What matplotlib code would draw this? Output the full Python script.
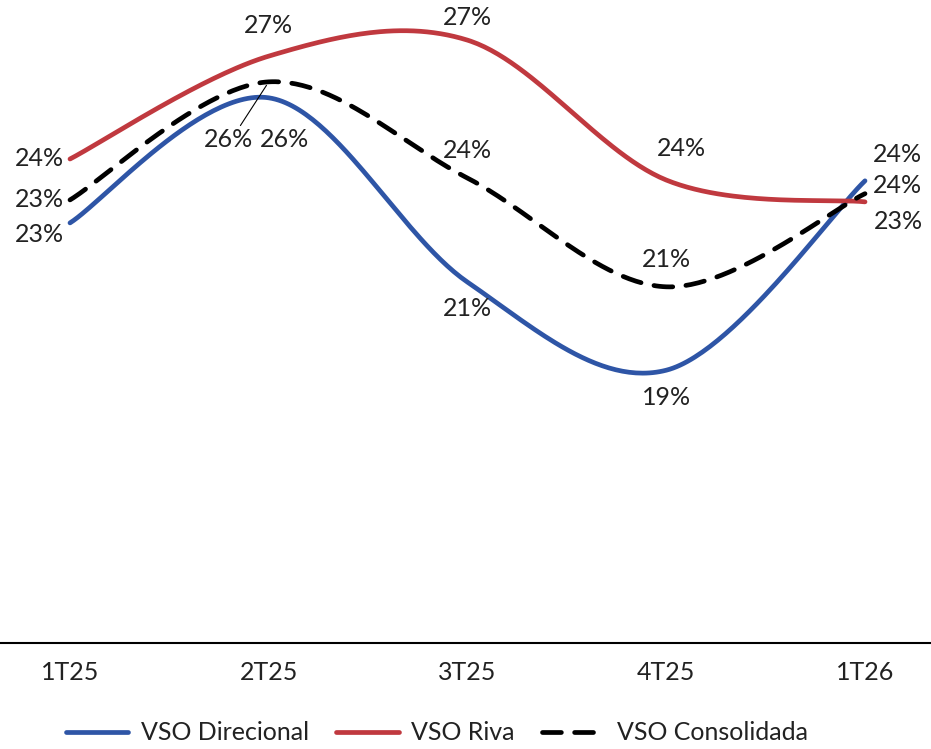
import numpy as np
import matplotlib
matplotlib.use("Agg")
import matplotlib.pyplot as plt

plt.rcParams['font.family'] = ['Lato', 'DejaVu Sans']

quarters = ["1T25", "2T25", "3T25", "4T25", "1T26"]
vso_direcional = [0.2278, 0.2599, 0.2126, 0.1900, 0.2386]
vso_riva = [0.2442, 0.2706, 0.2747, 0.2388, 0.2332]
vso_consolidada = [0.2337, 0.2640, 0.2393, 0.2114, 0.2353]

BLUE = "#2E55A6"
RED = "#C0393F"
TXT = "#222222"
FS = 18

# label offsets in pixels (dx, dy), dy positive = up
offsets = {
    "dir": [(-31, -12), (16, -42), (0, -26), (0, -27), (32, 26)],
    "riva": [(-31, 0), (0, 31), (0, 23), (15, 32), (33, -20)],
    "cons": [(-31, 0), (-40, -58), (0, 28), (0, 27), (32, 8)],
}


def smooth(x, y, n=60):
    """catmull-rom style smoothing, like excel's smoothed line"""
    x = np.asarray(x, float)
    y = np.asarray(y, float)
    px = np.concatenate([[x[0]], x, [x[-1]]])
    py = np.concatenate([[y[0]], y, [y[-1]]])
    xs, ys = [], []
    for i in range(1, len(px) - 2):
        p0, p1, p2, p3 = [np.array([px[j], py[j]]) for j in range(i - 1, i + 3)]
        c1 = p1 + (p2 - p0) / 6
        c2 = p2 - (p3 - p1) / 6
        t = np.linspace(0, 1, n)[:, None]
        b = ((1 - t) ** 3 * p1 + 3 * (1 - t) ** 2 * t * c1
             + 3 * (1 - t) * t ** 2 * c2 + t ** 3 * p2)
        xs.append(b[:, 0]); ys.append(b[:, 1])
    return np.concatenate(xs), np.concatenate(ys)


fig = plt.figure(figsize=(9.31, 7.49), dpi=100)
ax = fig.add_axes([0, 1 - 643 / 749, 1, 643 / 749])

xpos = np.arange(len(quarters))
# scale y so the smoothing is done in screen-like units
yscale = 643 / 0.165 / (199)  # px per unit y / px per category

series = [
    ("dir", vso_direcional, BLUE, "-", "VSO Direcional"),
    ("riva", vso_riva, RED, "-", "VSO Riva"),
    ("cons", vso_consolidada, "black", (0, (4.0, 2.8)), "VSO Consolidada"),
]

for key, vals, col, ls, name in series:
    sx, sy = smooth(xpos, np.array(vals) * yscale)
    ax.plot(sx, sy / yscale, color=col, lw=3.4, ls=ls, label=name,
            solid_capstyle="round", dash_capstyle="round")

for key, vals, col, ls, name in series:
    for i, v in enumerate(vals):
        dx, dy = offsets[key][i]
        kw = {}
        if key == "cons" and i == 1:
            kw["arrowprops"] = dict(arrowstyle="-", color="black", lw=0.8,
                                    shrinkA=0, shrinkB=3, relpos=(0.7, 1.0))
        ax.annotate(f"{v * 100:.0f}%", (i, v), xytext=(dx * 0.72, dy * 0.72),
                    textcoords="offset points", ha="center", va="center",
                    fontsize=FS, color=TXT, **kw)

ax.set_xlim(-70 / 198.75, 4 + 66 / 198.75)
ax.set_ylim(0.12, 0.285)
ax.set_xticks(xpos)
ax.set_xticklabels(quarters, fontsize=FS, color=TXT)
ax.set_yticks([])
ax.tick_params(axis="x", length=0, pad=13)
for s in ["top", "right", "left"]:
    ax.spines[s].set_visible(False)
ax.spines["bottom"].set_linewidth(1.5)
ax.spines["bottom"].set_color("black")

fig.legend(loc="center", bbox_to_anchor=(437 / 931, 1 - 733 / 749), ncol=3,
           frameon=False, fontsize=FS, handlelength=2.5, handletextpad=0.5,
           columnspacing=1.1, labelcolor=TXT)

fig.savefig("out.png", dpi=100)
